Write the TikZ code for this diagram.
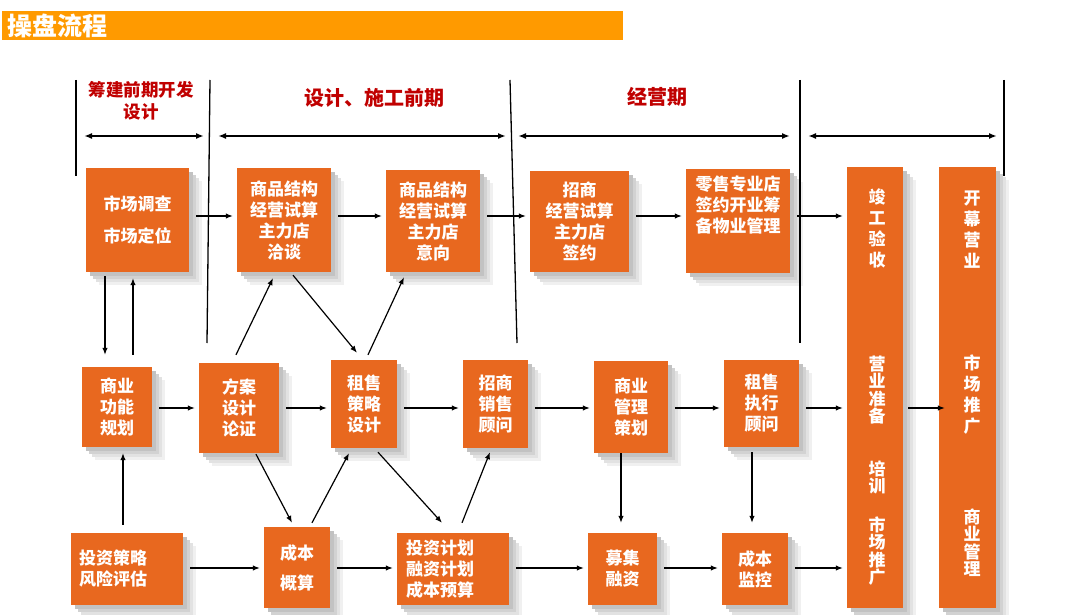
\documentclass[tikz,border=0pt]{standalone}
\usepackage{fontspec}
\setmainfont{Noto Sans CJK SC}
\usetikzlibrary{arrows.meta,calc,backgrounds}
\definecolor{boxorange}{HTML}{E8681F}
\definecolor{barorange}{HTML}{FF9A00}
\definecolor{phasered}{HTML}{C00000}
\definecolor{shadeA}{RGB}{240,240,240}
\definecolor{shadeB}{RGB}{226,226,226}
\definecolor{shadeC}{RGB}{210,210,210}
\definecolor{shadeD}{RGB}{194,194,194}
\tikzset{
	box/.style={fill=boxorange, text=white, align=center, inner sep=0pt,
		font=\bfseries\fontsize{17}{21}\selectfont},
	lbox/.style={box, align=left, inner xsep=8pt, text width=96pt},
	wtext/.style={text=white, align=center, inner sep=0pt, font=\bfseries\fontsize{17}{21}\selectfont},
	tight/.style={font=\bfseries\fontsize{17}{17.5}\selectfont},
	phase/.style={text=phasered, align=center, inner sep=0pt, font=\bfseries\fontsize{20}{22}\selectfont},
	arr/.style={-{Latex[length=7pt,width=5.5pt]}, line width=1.2pt},
	gap/.style={shorten <=7pt, shorten >=4pt},
	span/.style={{Latex[length=8pt,width=6pt]}-{Latex[length=8pt,width=6pt]}, line width=1.6pt},
	sep/.style={line width=1.3pt}
}
\begin{document}
\begin{tikzpicture}[x=1pt,y=-1pt]
	\useasboundingbox (0,0) rectangle (1080,615);
	% title bar
	\fill[barorange] (2,11) rectangle (623,40);
	\node[anchor=west, text=white, inner sep=0pt, font=\bfseries\fontsize{25}{25}\selectfont] (title) at (7,25.5) {操盘流程};

	% phases
	\node[phase, font=\bfseries\fontsize{17.5}{22}\selectfont] (p1) at (141,101) {筹建前期开发\\设计};
	\node[phase] (p2) at (374,98) {设计、施工前期};
	\node[phase] (p3) at (657,97) {经营期};
	\foreach \xa/\xb/\yb in {76/76/176, 210/207/343, 510/517/343, 800/800/343, 1004/1004/176}
		\draw[sep] (\xa,80) -- (\xb,\yb);
	\foreach \a/\b in {84/204, 218/506, 518/790, 808/997}
		\draw[span] (\a,136) -- (\b,136);

	% top row
	\node[box, minimum width=103pt, minimum height=104pt] (scdc) at (137.5,220) {市场调查\\[11pt]市场定位};
	\node[box, minimum width=94pt, minimum height=104pt] (jgqt) at (284,220) {商品结构\\经营试算\\主力店\\洽谈};
	\node[box, minimum width=94pt, minimum height=102pt] (jgyx) at (433,221) {商品结构\\经营试算\\主力店\\意向};
	\node[box, minimum width=99pt, minimum height=101pt] (zsqy) at (579.5,221.5) {招商\\经营试算\\主力店\\签约};
	\node[box, minimum width=104pt, minimum height=104pt] (lszy) at (738,221) {};
	\node[wtext, anchor=north] (lszyt) at (738,176) {零售专业店\\签约开业筹\\备物业管理};

	% middle row
	\node[box, minimum width=70pt, minimum height=80pt] (syghn) at (117,407) {商业\\功能\\规划};
	\node[box, minimum width=80pt, minimum height=90pt] (fasj) at (239,408) {方案\\设计\\论证};
	\node[box, minimum width=66pt, minimum height=88pt] (zscl) at (364,404) {租售\\策略\\设计};
	\node[box, minimum width=65pt, minimum height=88pt] (zsxs) at (495.5,404) {招商\\销售\\顾问};
	\node[box, minimum width=74pt, minimum height=92pt] (sygl) at (631,407) {商业\\管理\\策划};
	\node[box, minimum width=75pt, minimum height=87pt] (zszx) at (761.5,403.5) {租售\\执行\\顾问};

	% bottom row
	\node[lbox, minimum height=72pt] (tzcl) at (127,569) {投资策略\\风险评估};
	\node[box, minimum width=66pt, minimum height=81pt] (cbgs) at (297,567.5) {成本\\[9pt]概算};
	\node[lbox, inner xsep=9pt, text width=94pt, minimum height=72pt] (tzjh) at (453,569) {投资计划\\融资计划\\成本预算};
	\node[box, minimum width=69pt, minimum height=72pt] (mjrz) at (622.5,569) {募集\\融资};
	\node[box, minimum width=66pt, minimum height=72pt] (cbjk) at (755,569) {成本\\监控};

	% tall columns
	\node[box, minimum width=56pt, minimum height=441pt] (jgys) at (875,387.5) {};
	\node[box, minimum width=57pt, minimum height=441pt] (kmyy) at (967.5,387.5) {};
	\node[wtext] (t1) at (877,228) {竣\\工\\验\\收};
	\node[wtext, tight] (t2) at (877,390) {营\\业\\准\\备};
	\node[wtext, tight] (t3) at (877,477.5) {培\\训};
	\node[wtext, tight] (t4) at (877,551) {市\\场\\推\\广};
	\node[wtext] (t5) at (972,230) {开\\幕\\营\\业};
	\node[wtext] (t6) at (972,395) {市\\场\\推\\广};
	\node[wtext, tight] (t7) at (972,542.5) {商\\业\\管\\理};

	% shadows
	\begin{scope}[on background layer]
		\foreach \n in {scdc,jgqt,jgyx,zsqy,lszy,syghn,fasj,zscl,zsxs,sygl,zszx,tzcl,cbgs,tzjh,mjrz,cbjk,jgys,kmyy}
			\foreach \d/\c in {13/shadeA, 10/shadeB, 7/shadeC, 4/shadeD}
				\fill[\c] ($(\n.north west)+(\d,\d)$) rectangle ($(\n.south east)+(\d,\d)$);
	\end{scope}

	% arrows
	\coordinate (rowt) at (0,216);
	\coordinate (rowm) at (0,408);
	\coordinate (rowb) at (0,568);
	\foreach \a/\b in {scdc/jgqt, jgqt/jgyx, jgyx/zsqy, zsqy/lszy, lszy/jgys}
		\draw[arr, gap] (\a.east |- rowt) -- (\b.west |- rowt);
	\foreach \a/\b in {syghn/fasj, fasj/zscl, zscl/zsxs, zsxs/sygl, sygl/zszx, zszx/jgys}
		\draw[arr, gap] (\a.east |- rowm) -- (\b.west |- rowm);
	\foreach \a/\b in {tzcl/cbgs, cbgs/tzjh, tzjh/mjrz, mjrz/cbjk, cbjk/jgys}
		\draw[arr, gap] (\a.east |- rowb) -- (\b.west |- rowb);
	\draw[arr, shorten <=5pt, shorten >=-6pt] (jgys.east |- rowm) -- (kmyy.west |- rowm);

	\draw[arr] ($(scdc.south)+(-32.5,4)$) -- ($(syghn.north)+(-12,-12)$);
	\draw[arr] ($(syghn.north)+(16,-12)$) -- ($(scdc.south)+(-4.5,6)$);
	\draw[arr] ($(tzcl.north)+(-4,-8)$) -- ($(syghn.south)+(6,6)$);
	\draw[arr] ($(sygl.south)+(-10,0)$) -- ($(mjrz.north)+(-1.5,-10)$);
	\draw[arr] ($(zszx.south)+(-9.5,5)$) -- ($(cbjk.north)+(-3,-10)$);

	\draw[arr] ($(fasj.north)+(-3,-8)$) -- ($(jgqt.south)+(-11,6)$);
	\draw[arr] ($(jgqt.south)+(9,3)$) -- ($(zscl.north)+(-7,-7)$);
	\draw[arr] ($(zscl.north)+(4,-5)$) -- ($(jgyx.south)+(-29,5)$);
	\draw[arr] ($(fasj.south)+(17,1)$) -- ($(cbgs.north)+(-5,-4)$);
	\draw[arr] ($(cbgs.north)+(15,-4)$) -- ($(zscl.south)+(-15,5)$);
	\draw[arr] ($(zscl.south)+(14,4)$) -- ($(tzjh.north)+(-11,-10)$);
	\draw[arr] ($(tzjh.north)+(9,-10)$) -- ($(zsxs.south)+(-5.5,4)$);
\end{tikzpicture}
\end{document}
